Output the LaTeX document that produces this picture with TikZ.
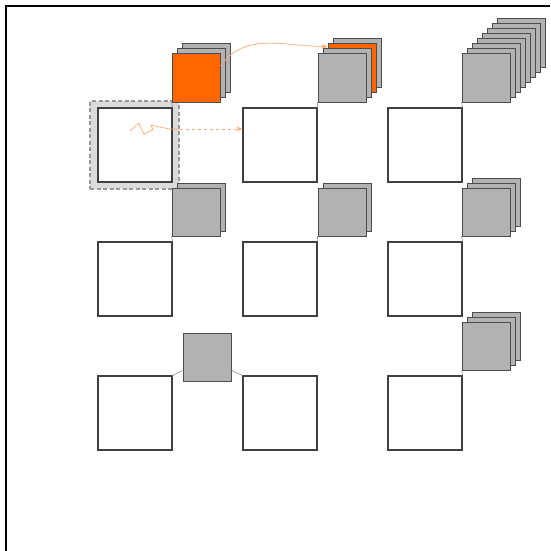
\documentclass[tikz,border=0pt]{standalone}
\usepackage{tikz}
\usetikzlibrary{arrows.meta}
\definecolor{hot}{HTML}{FF6600}

\begin{document}
\begin{tikzpicture}[x=1pt, y=-1pt,
  cell/.style={draw=black!75, fill=white, line width=1.2pt, minimum size=74pt, inner sep=0pt},
  card/.style={draw=black!70, fill=gray!60, line width=1pt, minimum size=48pt, inner sep=0pt},
  link/.style={draw=black!45, line width=0.6pt},
  req/.style={hot!55, line width=0.7pt}]
  \useasboundingbox (0,0) rectangle (550,551);
  \draw[line width=1.4pt] (6,551) -- (6,6) -- (550,6);

  % selected cell
  \node[draw=gray!80, dash pattern=on 4pt off 2.5pt, fill=gray!28, line width=1.2pt, minimum width=89pt, minimum height=88pt, inner sep=0pt] (sel) at (134.5,145) {};

  % cells
  \node[cell] (c11) at (135,145) {};
  \node[cell] (c12) at (280,145) {};
  \node[cell] (c13) at (425,145) {};
  \node[cell] (c21) at (135,279) {};
  \node[cell] (c22) at (280,279) {};
  \node[cell] (c23) at (425,279) {};
  \node[cell] (c31) at (135,413) {};
  \node[cell] (c32) at (280,413) {};
  \node[cell] (c33) at (425,413) {};

  % stacks, back to front
  \node[card] (s11-2) at (206,68) {};
  \node[card] (s11-1) at (201,73) {};
  \node[card, fill=hot] (s11) at (196,78) {};

  \node[card] (s12-3) at (357,63) {};
  \node[card, fill=hot] (s12-2) at (352,68) {};
  \node[card] (s12-1) at (347,73) {};
  \node[card] (s12) at (342,78) {};

  \foreach \i in {7,...,1}
    \node[card] (s13-\i) at (486+5*\i, 78-5*\i) {};
  \node[card] (s13) at (486,78) {};

  \node[card] (s21-1) at (201,207) {};
  \node[card] (s21) at (196,212) {};
  \node[card] (s22-1) at (347,207) {};
  \node[card] (s22) at (342,212) {};

  \node[card] (s23-2) at (496,202) {};
  \node[card] (s23-1) at (491,207) {};
  \node[card] (s23) at (486,212) {};

  \node[card] (s33-2) at (496,336) {};
  \node[card] (s33-1) at (491,341) {};
  \node[card] (s33) at (486,346) {};

  \node[card] (s3x) at (207,357) {};

  % links
  \draw[link] (c11.north east) -- (s11.south west);
  \draw[link] (c12.north east) -- (s12.south west);
  \draw[link] (c13.north east) -- (s13.south west);
  \draw[link] (c21.north east) -- (s21.south west);
  \draw[link] (c22.north east) -- (s22.south west);
  \draw[link] (c23.north east) -- (s23.south west);
  \draw[link] (c33.north east) -- (s33.south west);
  \draw[link] (c31.north east) -- ([yshift=11pt]s3x.south west);
  \draw[link] ([yshift=11pt]s3x.south east) -- (c32.north west);

  % request
  \coordinate (hit) at (180,129);
  \draw[req] (130,131) -- (138.7,123.3) -- (144,134.3) -- (153,129.5) -- (151,125.3) -- (170,129) -- (hit);
  \draw[req, dashed, -{Stealth[length=6pt, width=5pt]}] (hit) -- (hit -| c12.west);
  \draw[req, -{Stealth[length=6pt, width=5pt]}] ([yshift=12pt]s11.east) to[out=55, in=180] ([yshift=-3pt]s12-2.north west);
\end{tikzpicture}
\end{document}
